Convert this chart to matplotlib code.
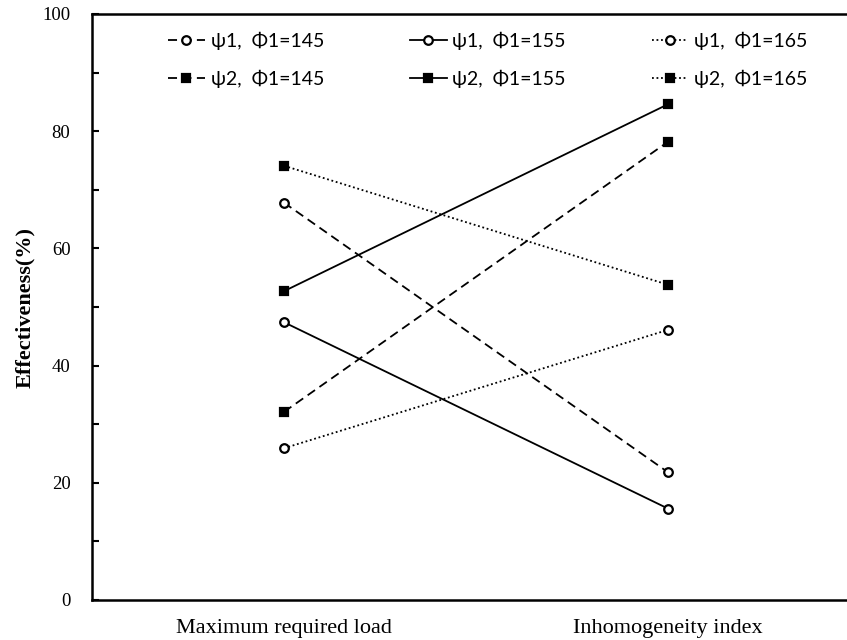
import matplotlib
matplotlib.use("Agg")
import matplotlib.pyplot as plt
from matplotlib.ticker import MultipleLocator

categories = ["Maximum required load", "Inhomogeneity index"]
psi1_145 = [67.8, 21.8]
psi1_155 = [47.4, 15.6]
psi1_165 = [25.9, 46.1]
psi2_145 = [32.1, 78.2]
psi2_155 = [52.7, 84.6]
psi2_165 = [74.1, 53.8]

W, H = 847, 640
fig = plt.figure(figsize=(W / 100, H / 100), dpi=100)
ax = fig.add_axes([92 / W, 1 - 600 / H, 768 / W, 586 / H])

x = list(range(len(categories)))
dash = (0, (5, 3))
dot = (0, (1, 1.5))
series = [
    (psi1_145, "ψ1,  Φ1=145", dash, "o", "white"),
    (psi1_155, "ψ1,  Φ1=155", "-", "o", "white"),
    (psi1_165, "ψ1,  Φ1=165", dot, "o", "white"),
    (psi2_145, "ψ2,  Φ1=145", dash, "s", "black"),
    (psi2_155, "ψ2,  Φ1=155", "-", "s", "black"),
    (psi2_165, "ψ2,  Φ1=165", dot, "s", "black"),
]
handles = []
for vals, lab, ls, mk, fc in series:
    h, = ax.plot(x, vals, linestyle=ls, color="black", linewidth=1.3,
                 marker=mk, markersize=6.2 if mk == "o" else 6,
                 markerfacecolor=fc, markeredgecolor="black",
                 markeredgewidth=1.6, label=lab)
    handles.append(h)

ax.set_xlim(-0.5, 1.5)
ax.set_ylim(0, 100)
ax.yaxis.set_major_locator(MultipleLocator(20))
ax.yaxis.set_minor_locator(MultipleLocator(10))
ax.set_xticks(x)
ax.set_xticklabels(categories, fontfamily="Liberation Serif", fontsize=16)
for t in ax.get_yticklabels():
    t.set_fontfamily("Liberation Serif")
    t.set_fontsize(13.5)
ax.tick_params(axis="y", which="major", direction="in", length=5, width=1.5, pad=15.5)
ax.tick_params(axis="y", which="minor", direction="in", length=5, width=1.5)
ax.tick_params(axis="x", length=0, pad=14)
ax.spines["right"].set_visible(False)
for s in ["left", "bottom", "top"]:
    ax.spines[s].set_linewidth(1.8)

ax.set_ylabel("Effectiveness(%)", fontfamily="Liberation Serif", fontweight="bold",
              fontsize=16, labelpad=5)

order = [0, 3, 1, 4, 2, 5]
leg = fig.legend(handles=[handles[i] for i in order], ncol=3, frameon=False,
                 loc="upper left", bbox_to_anchor=(168 / W, 1 - 32 / H),
                 prop={"family": "Lato", "size": 14},
                 handlelength=1.9, handletextpad=0.3, columnspacing=4.4,
                 labelspacing=1.0, borderaxespad=0, borderpad=0)

fig.savefig("out.png", dpi=100)
